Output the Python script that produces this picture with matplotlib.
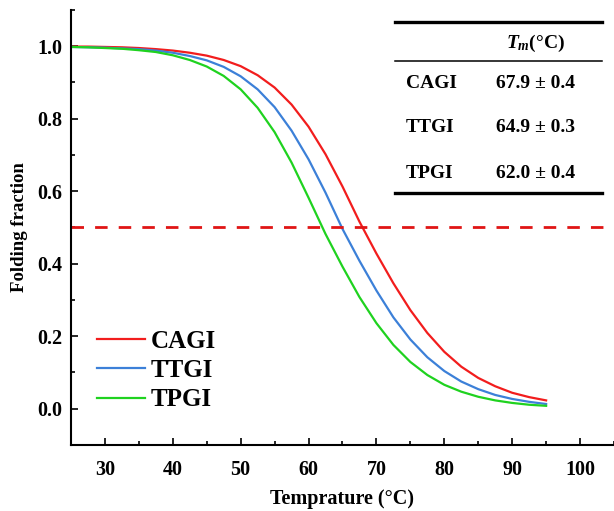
import matplotlib

matplotlib.use("Agg")
import matplotlib.pyplot as plt
from matplotlib.ticker import MultipleLocator, FormatStrFormatter

plt.rcParams["font.family"] = ["Liberation Serif", "DejaVu Serif"]
plt.rcParams["font.weight"] = "bold"
plt.rcParams["mathtext.fontset"] = "custom"
plt.rcParams["mathtext.it"] = "Liberation Serif:italic:bold"
plt.rcParams["mathtext.rm"] = "Liberation Serif:bold"

# temperature grid (degC) and folding fractions
temps = [25, 27.5, 30, 32.5, 35, 37.5, 40, 42.5, 45, 47.5, 50, 52.5, 55,
         57.5, 60, 62.5, 65, 67.5, 70, 72.5, 75, 77.5, 80, 82.5, 85, 87.5,
         90, 92.5, 95]
cagi = [0.999, 0.999, 0.998, 0.997, 0.995, 0.992, 0.988, 0.982, 0.974, 0.962,
        0.945, 0.920, 0.886, 0.839, 0.778, 0.702, 0.613, 0.516, 0.428, 0.346,
        0.272, 0.209, 0.157, 0.116, 0.085, 0.062, 0.044, 0.032, 0.023]
ttgi = [0.998, 0.997, 0.996, 0.994, 0.992, 0.988, 0.982, 0.973, 0.961, 0.943,
        0.917, 0.881, 0.832, 0.767, 0.688, 0.596, 0.496, 0.408, 0.326, 0.252,
        0.191, 0.142, 0.104, 0.075, 0.054, 0.038, 0.027, 0.019, 0.013]
tpgi = [0.998, 0.997, 0.995, 0.993, 0.989, 0.984, 0.975, 0.962, 0.944, 0.918,
        0.881, 0.830, 0.763, 0.679, 0.582, 0.482, 0.392, 0.308, 0.236, 0.176,
        0.129, 0.093, 0.066, 0.047, 0.033, 0.023, 0.016, 0.011, 0.008]

names = ["CAGI", "TTGI", "TPGI"]
colors = ["#f21d1d", "#3c80d8", "#1fd21f"]
tm_vals = ["67.9 \u00b1 0.4", "64.9 \u00b1 0.3", "62.0 \u00b1 0.4"]
half = 0.5

fig = plt.figure(figsize=(6.14, 5.11), dpi=100)
ax = fig.add_axes([0.1156, 0.1292, 0.8844, 0.8513])

for ys, name, c in zip([cagi, ttgi, tpgi], names, colors):
    ax.plot(temps, ys, color=c, lw=1.6, label=name)
ax.axhline(half, color="#e01515", lw=2, ls=(0, (4.5, 4)))

ax.set_xlim(25, 105)
ax.set_ylim(-0.1, 1.1)
ax.xaxis.set_minor_locator(MultipleLocator(5))
ax.set_xticks(range(30, 101, 10))
ax.yaxis.set_minor_locator(MultipleLocator(0.1))
ax.set_yticks([0.0, 0.2, 0.4, 0.6, 0.8, 1.0])
ax.yaxis.set_major_formatter(FormatStrFormatter("%.1f"))
ax.tick_params(which="both", direction="in", width=1.2, labelsize=14.5)
ax.tick_params(which="major", length=5)
ax.tick_params(which="minor", length=3)
ax.tick_params(axis="x", pad=11)
ax.tick_params(axis="y", pad=6)
for s in ["top", "right"]:
    ax.spines[s].set_visible(False)
for s in ["left", "bottom"]:
    ax.spines[s].set_linewidth(1.5)

ax.set_xlabel("Temprature (\u00b0C)", fontsize=14.5, fontweight="bold", labelpad=6)
ax.set_ylabel("Folding fraction", fontsize=13.5, fontweight="bold", labelpad=7)

ax.legend(loc="lower left", bbox_to_anchor=(0.048, 0.077), frameon=False,
          prop={"size": 18, "weight": "bold"}, handlelength=1.9,
          handletextpad=0.25, labelspacing=0.25, borderpad=0, borderaxespad=0)

# Tm table
tr = ax.transAxes
ax.plot([0.597, 0.978], [0.973, 0.973], color="black", lw=2.4, transform=tr, clip_on=False)
ax.plot([0.597, 0.978], [0.883, 0.883], color="black", lw=1.1, transform=tr, clip_on=False)
ax.plot([0.597, 0.978], [0.579, 0.579], color="black", lw=2.4, transform=tr, clip_on=False)
ax.text(0.855, 0.924, "$T_m$(\u00b0C)", transform=tr,
        ha="center", va="center", fontsize=14, fontweight="bold")
for yy, name, val in zip([0.832, 0.729, 0.625], names, tm_vals):
    ax.text(0.617, yy, name, transform=tr, ha="left", va="center",
            fontsize=14, fontweight="bold")
    ax.text(0.855, yy, val, transform=tr, ha="center", va="center",
            fontsize=14, fontweight="bold")

fig.savefig("out.png", dpi=100)
